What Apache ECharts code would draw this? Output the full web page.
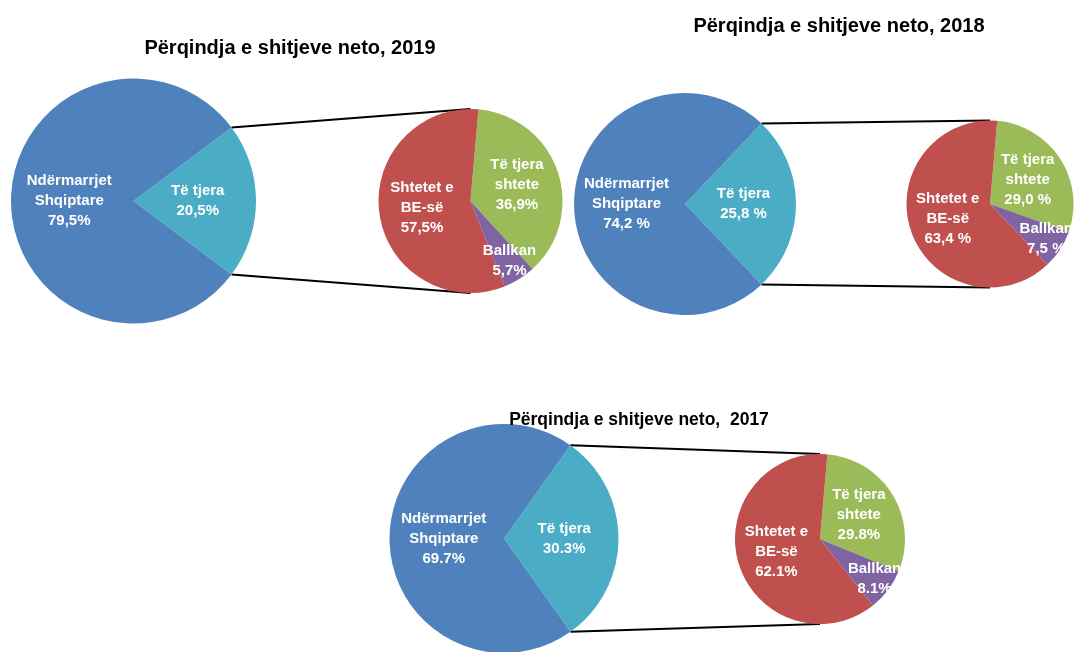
<!DOCTYPE html>
<html>
<head>
<meta charset="utf-8">
<script src="https://cdn.jsdelivr.net/npm/echarts@6/dist/echarts.min.js"></script>
<style>
  html, body { margin: 0; padding: 0; background: #fff; }
  #chart { width: 1074px; height: 652px; }
</style>
</head>
<body>
<div id="chart"></div>
<script>
// Data
const titles = ["Përqindja e shitjeve neto, 2019", "Përqindja e shitjeve neto, 2018", "Përqindja e shitjeve neto,  2017"];
const mainLabels = ["Të tjera", "Ndërmarrjet\nShqiptare"];
const mainValues2019 = [20.5, 79.5];
const mainValues2018 = [25.8, 74.2];
const mainValues2017 = [30.3, 69.7];
const foreignLabels = ["Të tjera\nshtete", "Ballkan", "Shtetet e\nBE-së"];
const foreignValues2019 = [36.9, 5.7, 57.5];
const foreignValues2018 = [29.0, 7.5, 63.4];
const foreignValues2017 = [29.8, 8.1, 62.1];
// number style used in each chart's labels
const decimalSeparators = [",", ",", "."];
const percentSuffixes = ["%", " %", "%"];

const mainValues = [mainValues2019, mainValues2018, mainValues2017];
const foreignValues = [foreignValues2019, foreignValues2018, foreignValues2017];

// Layout and style
const mainColors = ["#4BACC6", "#4F81BD"];
const foreignColors = ["#9BBB59", "#8064A2", "#C0504D"];
const layout = [
  { title: [285, 33, 20], main: { c: [133.5, 201], r: 122.5 }, side: { c: [470.5, 201], r: 92 } },
  { title: [834, 11, 20], main: { c: [685, 204], r: 111 }, side: { c: [990, 204], r: 83.5 } },
  { title: [634, 406, 17.5], main: { c: [504, 538.5], r: 114.5 }, side: { c: [820, 539], r: 85 } },
];
const SIDE_START = 85;
const labelFont = "'Liberation Sans', Arial, sans-serif";

function fmt(value, k) {
  return value.toFixed(1).replace(".", decimalSeparators[k]) + percentSuffixes[k];
}

const series = [];
const graphics = [];

layout.forEach((l, k) => {
  const mv = mainValues[k];
  const mainTotal = mv.reduce((a, b) => a + b, 0);
  // the split-off slice is centred on the right side of the main pie
  const half = (mv[0] / mainTotal) * 180;

  const labelStyle = {
    position: "inside",
    color: "#fff",
    fontWeight: "bold",
    fontSize: 15,
    lineHeight: 20,
    fontFamily: labelFont,
    formatter: (p) => p.name + "\n" + fmt(p.value, k),
  };

  series.push({
    type: "pie",
    center: l.main.c,
    radius: l.main.r,
    startAngle: half,
    clockwise: true,
    avoidLabelOverlap: false,
    silent: true,
    label: labelStyle,
    data: mainLabels.map((name, i) => ({ name, value: mv[i], itemStyle: { color: mainColors[i] } })),
  });

  const fv = foreignValues[k];
  series.push({
    type: "pie",
    center: l.side.c,
    radius: l.side.r,
    startAngle: SIDE_START,
    clockwise: true,
    avoidLabelOverlap: false,
    silent: true,
    label: labelStyle,
    labelLayout: (params) => {
      // the small Ballkan slice has its label pushed towards the rim
      if (params.dataIndex !== 1) return {};
      const r = params.labelRect;
      const vx = r.x + r.width / 2 - l.side.c[0];
      const vy = r.y + r.height / 2 - l.side.c[1];
      return { dx: vx * 0.5, dy: vy * 0.45 };
    },
    data: foreignLabels.map((name, i) => ({ name, value: fv[i], itemStyle: { color: foreignColors[i] } })),
  });

  // connector lines from the split slice edges to the secondary pie
  const a = (half * Math.PI) / 180;
  const px = l.main.c[0] + l.main.r * Math.cos(a);
  const dy = l.main.r * Math.sin(a);
  [[l.main.c[1] - dy, l.side.c[1] - l.side.r], [l.main.c[1] + dy, l.side.c[1] + l.side.r]].forEach(([y1, y2]) => {
    graphics.push({
      type: "line",
      silent: true,
      z: 1,
      shape: { x1: px, y1, x2: l.side.c[0], y2 },
      style: { stroke: "#000", lineWidth: 2 },
    });
  });
});

const chart = echarts.init(document.getElementById("chart"), null, { renderer: "canvas" });
chart.setOption({
  animation: false,
  backgroundColor: "#fff",
  title: layout.map((l, k) => ({
    text: titles[k],
    left: l.title[0],
    top: l.title[1],
    textAlign: "center",
    textStyle: { fontFamily: "'Liberation Sans', Arial, sans-serif", fontWeight: "bold", fontSize: l.title[2], color: "#000" },
  })),
  graphic: graphics,
  series,
});
</script>
</body>
</html>
